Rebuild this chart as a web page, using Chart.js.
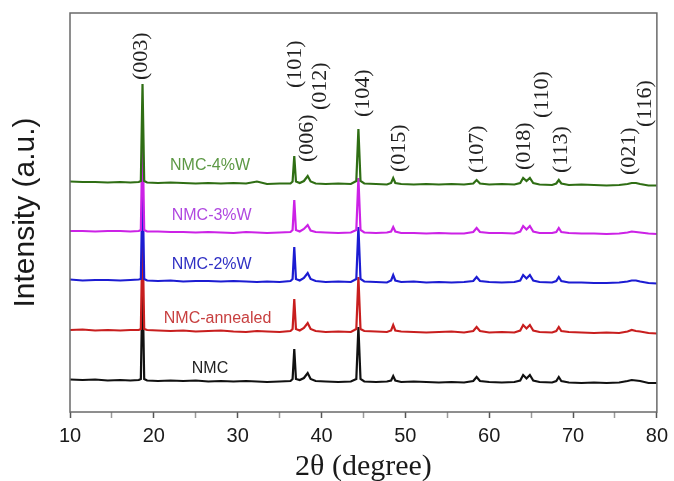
<!DOCTYPE html>
<html>
<head>
<meta charset="utf-8">
<script src="https://cdn.jsdelivr.net/npm/chart.js@4.4.1/dist/chart.umd.min.js"></script>
<style>
    html, body { margin: 0; padding: 0; background: #fff; }
</style>
</head>
<body>
<canvas id="xrdChart" width="674" height="481"></canvas>
<script>
// 2-theta positions shared by every pattern
var twoTheta = [10, 11.5, 13, 14.5, 16, 17.2, 18.2, 18.45, 18.65, 18.85, 19.2, 20.5, 22, 23.5, 25, 26.5, 28, 29.5, 31, 32.3,
    33.5, 35, 36.3, 36.55, 36.75, 36.95, 37.4, 37.9, 38.35, 38.7, 39.3, 40.5, 42, 43.5, 44.15, 44.4, 44.65, 45.1, 46.5, 47.8,
    48.3, 48.55, 48.8, 49.5, 51, 52.5, 54, 55.5, 57, 58.1, 58.5, 58.9, 60, 61.5, 63, 63.7, 64.05, 64.45, 64.85, 65.25,
    66, 67.5, 68, 68.3, 68.6, 69.5, 71, 72.5, 74, 75.5, 76.5, 77, 77.5, 78, 79, 80];

// intensity (a.u.) above each pattern's own baseline
var nmc = [2.5, 2, 2.5, 1.5, 2, 1.5, 2, 3, 100, 3, 1.5, 1, 1.5, 1, 1.5, 0.5, 1, 0.5, 1, 0.5,
    0, 0.5, 1, 3, 33, 3, 2, 4, 9, 3, 1, 0.5, 0, 0.5, 3, 55, 3, 0.5, 0, 0.5,
    1.5, 6, 1.5, 0, 0.5, 0, -0.5, 0, -0.5, 1, 5, 1, 0, -0.5, 0, 1.5, 7, 3.5, 7, 1.5,
    0, -0.5, 1, 5, 1, -0.5, -1, -0.5, -1, -0.5, 1, 2, 1.5, 1, -1, -1];
var nmcAnnealed = [2, 2.5, 1.5, 2, 1.5, 2, 2, 3, 100, 3, 2, 1.5, 1, 1.5, 0.5, 1, 1.5, 0.5, 0, 1,
    0.5, 0, 1, 3, 33, 3, 1.5, 4, 9, 3, 1, 0, 0.5, 0, 3, 55, 3, 1, 0.5, 0,
    1.5, 7, 1.5, 0.5, 0, -0.5, 0, 0.5, -0.5, 1, 5, 1, -0.5, 0, -0.5, 1.5, 7, 3.5, 7, 1.5,
    0, -0.5, 1, 5, 1, 0, -0.5, -1, -0.5, -1, 0.5, 2, 1, 0.5, -1, -1.5];
var nmc2W = [2.5, 1.5, 2, 2, 1.5, 2, 2.5, 3, 100, 3, 1.5, 1, 1.5, 0.5, 1, 1, 0.5, 1, 0.5, 0,
    0.5, 0, 1, 3, 35, 3, 1.5, 4, 9, 3, 1, 0, 0.5, 0, 3, 55, 3, 0.5, 0, -0.5,
    1.5, 7, 1.5, 0, 0.5, -0.5, 0, -0.5, 0, 1, 5, 1, 0, -0.5, 0, 1.5, 7, 3.5, 7, 1.5,
    0, -0.5, 1, 5, 1, -0.5, -0.5, -1, -1, -0.5, 0.5, 1.5, 1.5, 0.5, -1, -1.5];
var nmc3W = [2, 2, 1.5, 2, 2, 1.5, 2, 3, 100, 3, 1.5, 1.5, 1, 1, 0.5, 1, 0.5, 0, 1, 0.5,
    0, 0.5, 1, 3, 33, 3, 1.5, 4, 8, 2.5, 1, 0.5, 0, 0.5, 3, 55, 3, 0.5, 0, 0.5,
    1.5, 6, 1.5, 0, 0, -0.5, 0, -0.5, -0.5, 1, 5, 1, 0, 0, -0.5, 1.5, 7, 3.5, 7, 1.5,
    0, 0, 1, 5, 1, 0, -0.5, -0.5, -1, -0.5, 0.5, 1.5, 1, 0.5, -0.5, -1];
var nmc4W = [2.5, 2, 2, 1.5, 2, 1.5, 2, 3, 100, 3, 1.5, 1, 1.5, 1, 0.5, 1, 0.5, 1, 0.5, 2.5,
    0, 0.5, 0.5, 2.5, 28, 2.5, 1, 3, 8, 2.5, 0.5, 0, 0.5, 0, 3, 55, 3, 0.5, 0, -0.5,
    1, 6, 1, 0, -0.5, 0, -0.5, 0, -0.5, 0.5, 4, 0.5, -0.5, 0, -0.5, 1, 6, 3, 6, 1,
    -0.5, -1, 0.5, 4, 0.5, -1, -0.5, -1, -1.5, -1, 0, 1, 1, 0, -1.5, -1.5];

var seriesNames = ["NMC", "NMC-annealed", "NMC-2%W", "NMC-3%W", "NMC-4%W"];
var stackOffsets = [30, 80, 130, 179, 228];
var peakLabels = ["(003)", "(101)", "(006)", "(012)", "(104)", "(015)", "(107)", "(018)", "(110)", "(113)", "(021)", "(116)"];
var xTickValues = [10, 20, 30, 40, 50, 60, 70, 80];

var lineColors = ["#111111", "#c81e1e", "#1c1cd2", "#cc22e6", "#2f6e14"];
var textColors = ["#222222", "#c84040", "#3030c4", "#b048e0", "#5c9844"];
// label anchors in axis units: [2theta, height above own baseline]
var seriesLabelPos = [[26.7, 13], [27.6, 13], [26.9, 17], [26.9, 17], [26.7, 18]];
// peak label anchors: [2theta, value where the rotated text starts]
var peakLabelPos = [[18.45, 332], [36.9, 324], [38.25, 250], [39.8, 302], [45.0, 295], [49.3, 240],
    [58.6, 239], [64.2, 242], [66.3, 294], [68.6, 239], [76.7, 237], [78.6, 285]];

var patterns = [nmc, nmcAnnealed, nmc2W, nmc3W, nmc4W];

var datasets = patterns.map(function (values, i) {
    return {
        label: seriesNames[i],
        data: twoTheta.map(function (t, j) { return { x: t, y: values[j] + stackOffsets[i] } }),
        borderColor: lineColors[i],
        borderWidth: 2.2,
        pointRadius: 0,
        tension: 0,
        fill: false,
        order: patterns.length - 1 - i
    }
})

var textPlugin = {
    id: "xrdText",
    afterDatasetsDraw: function (chart) {
        var ctx = chart.ctx
        var xs = chart.scales.x
        var ys = chart.scales.y
        var area = chart.chartArea
        ctx.save()
        // frame
        ctx.strokeStyle = "#6a6a6a"
        ctx.lineWidth = 1.5
        ctx.strokeRect(area.left, area.top, area.right - area.left, area.bottom - area.top)
        // sample names
        ctx.font = "16px 'Liberation Sans', Arial, sans-serif"
        ctx.textAlign = "center"
        ctx.textBaseline = "middle"
        seriesNames.forEach(function (name, i) {
            ctx.fillStyle = textColors[i]
            ctx.fillText(name, xs.getPixelForValue(seriesLabelPos[i][0]), ys.getPixelForValue(stackOffsets[i] + seriesLabelPos[i][1]))
        })
        // hkl labels
        ctx.font = "22px 'Liberation Serif', 'Times New Roman', serif"
        ctx.fillStyle = "#222222"
        ctx.textAlign = "left"
        peakLabels.forEach(function (hkl, i) {
            ctx.save()
            ctx.translate(xs.getPixelForValue(peakLabelPos[i][0]), ys.getPixelForValue(peakLabelPos[i][1]))
            ctx.rotate(-Math.PI / 2)
            ctx.fillText(hkl, 0, 0)
            ctx.restore()
        })
        ctx.restore()
    }
}

new Chart(document.getElementById("xrdChart").getContext("2d"), {
    type: "line",
    data: { datasets: datasets },
    plugins: [textPlugin],
    options: {
        responsive: false,
        animation: false,
        devicePixelRatio: 1,
        layout: { padding: { top: 13, right: 16, left: 0, bottom: 0 } },
        plugins: { legend: { display: false }, tooltip: { enabled: false } },
        scales: {
            x: {
                type: "linear",
                min: 10,
                max: 80,
                afterFit: function (scale) { scale.height = 69 },
                afterBuildTicks: function (scale) {
                    var t = []
                    for (var v = 10; v <= 80; v += 5) t.push({ value: v })
                    scale.ticks = t
                },
                ticks: {
                    autoSkip: false,
                    maxRotation: 0,
                    padding: 6,
                    color: "#1a1a1a",
                    font: { family: "'Liberation Sans', Arial, sans-serif", size: 20 },
                    callback: function (v) { return xTickValues.indexOf(v) >= 0 ? v : "" }
                },
                grid: {
                    drawOnChartArea: false,
                    drawTicks: true,
                    tickLength: 6,
                    tickWidth: 1.5,
                    tickColor: function (c) { return c.tick && c.tick.value % 10 === 0 ? "#555555" : "#9a9a9a" }
                },
                border: { display: false },
                title: {
                    display: true,
                    text: "2θ (degree)",
                    color: "#1a1a1a",
                    font: { family: "'Liberation Serif', 'Times New Roman', serif", size: 30, lineHeight: 0.9 },
                    padding: { top: 0, bottom: 0 }
                }
            },
            y: {
                min: 0,
                max: 399,
                afterFit: function (scale) { scale.width = 70 },
                ticks: { display: false },
                grid: { display: false },
                border: { display: false },
                title: {
                    display: true,
                    text: "Intensity (a.u.)",
                    color: "#1a1a1a",
                    font: { family: "'Liberation Sans', Arial, sans-serif", size: 30, lineHeight: 1.2 },
                    padding: { top: 8, bottom: 0 }
                }
            }
        }
    }
})
</script>
</body>
</html>
